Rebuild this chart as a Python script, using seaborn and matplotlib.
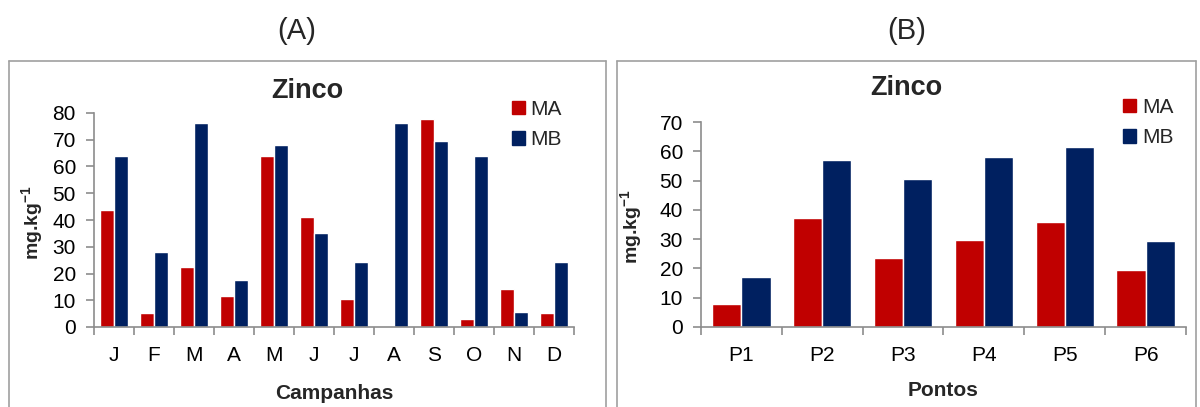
import pandas as pd
import matplotlib
matplotlib.use("Agg")
import matplotlib.pyplot as plt
import seaborn as sns
from matplotlib.patches import Patch
from matplotlib.lines import Line2D

# dados - painel A (campanhas mensais)
meses = ["Jan", "Fev", "Mar", "Abr", "Mai", "Jun", "Jul", "Ago", "Set", "Out", "Nov", "Dez"]
meses_rotulos = ["J", "F", "M", "A", "M", "J", "J", "A", "S", "O", "N", "D"]
zn_ma_meses = [43.9, 5.1, 22.4, 11.5, 63.8, 41.3, 10.4, 0.0, 77.7, 2.9, 14.2, 5.1]
zn_mb_meses = [63.8, 28.1, 76.2, 17.6, 68.0, 35.2, 24.3, 76.2, 69.5, 63.8, 5.5, 24.3]

# dados - painel B (pontos de coleta)
pontos = ["P1", "P2", "P3", "P4", "P5", "P6"]
zn_ma_pontos = [7.9, 37.2, 23.6, 29.8, 35.7, 19.6]
zn_mb_pontos = [17.2, 57.1, 50.4, 58.1, 61.5, 29.4]

series = ["MA", "MB"]
cores = {"MA": "#C00000", "MB": "#002060"}
cinza = "#8C8C8C"

df_a = pd.DataFrame({
    "mes": meses * 2,
    "valor": zn_ma_meses + zn_mb_meses,
    "serie": ["MA"] * len(meses) + ["MB"] * len(meses),
})
df_b = pd.DataFrame({
    "ponto": pontos * 2,
    "valor": zn_ma_pontos + zn_mb_pontos,
    "serie": ["MA"] * len(pontos) + ["MB"] * len(pontos),
})

sns.set_theme(style="white")
plt.rcParams["font.family"] = ["Liberation Sans", "DejaVu Sans"]
plt.rcParams["mathtext.fontset"] = "custom"
plt.rcParams["mathtext.rm"] = "Liberation Sans"
plt.rcParams["mathtext.bf"] = "Liberation Sans:bold"

W, H = 1200, 407
fig = plt.figure(figsize=(12, 4.07), dpi=100)


def px_axes(left, top, right, bottom):
    return fig.add_axes([left / W, 1 - bottom / H, (right - left) / W, (bottom - top) / H])


# molduras dos graficos
for x0, x1 in [(9, 606), (617, 1196)]:
    for xs, ys in [([x0, x0], [H + 5, 61]), ([x0, x1], [61, 61]), ([x1, x1], [61, H + 5])]:
        fig.add_artist(Line2D([v / W for v in xs], [1 - v / H for v in ys],
                              color="#A0A0A0", lw=1.2, transform=fig.transFigure))

ax_a = px_axes(94, 113, 574, 327)
ax_b = px_axes(701, 122, 1186, 327)

sns.barplot(data=df_a, x="mes", y="valor", hue="serie", palette=cores,
            width=0.72, ax=ax_a, legend=False, saturation=1)
sns.barplot(data=df_b, x="ponto", y="valor", hue="serie", palette=cores,
            width=0.72, ax=ax_b, legend=False, saturation=1)


def estilo(ax, n, ymax, rotulos, xlabel, ylab_x):
    ax.set_xlim(-0.5, n - 0.5)
    ax.set_ylim(0, ymax)
    ax.set_yticks(range(0, ymax + 1, 10))
    ax.set_xticks(range(n))
    ax.set_xticklabels(rotulos)
    ax.set_xticks([i - 0.5 for i in range(n + 1)], minor=True)
    for s in ["top", "right"]:
        ax.spines[s].set_visible(False)
    for s in ["left", "bottom"]:
        ax.spines[s].set_color(cinza)
        ax.spines[s].set_linewidth(1.2)
    ax.tick_params(axis="x", which="major", length=0, labelsize=15, pad=14, labelcolor="black")
    ax.tick_params(axis="x", which="minor", length=6, width=1.2, color=cinza, direction="out", bottom=True)
    ax.tick_params(axis="y", length=6, width=1.2, color=cinza, direction="out", left=True,
                   labelsize=15, pad=7, labelcolor="black")
    ax.set_xlabel(xlabel, fontsize=15, fontweight="bold")
    ax.xaxis.set_label_coords(0.5, -0.31)
    ax.xaxis.label.set_va("center")
    ax.set_ylabel("mg.kg$^{\\mathbf{-1}}$", fontsize=14, fontweight="bold")
    ax.yaxis.set_label_coords(ylab_x, 0.49)
    ax.yaxis.label.set_va("center")
    ax.grid(False)


estilo(ax_a, len(meses), 80, meses_rotulos, "Campanhas", -0.127)
estilo(ax_b, len(pontos), 70, pontos, "Pontos", -0.142)

# legendas
handles = [Patch(color=cores[s], label=s) for s in series]
for ax, (lx, ly) in [(ax_a, (512, 100)), (ax_b, (1123, 98))]:
    ax.legend(handles=handles, loc="upper left", bbox_to_anchor=(lx / W, 1 - ly / H),
              bbox_transform=fig.transFigure, frameon=False, fontsize=15,
              handlelength=0.6, handleheight=0.6, handletextpad=0.3,
              labelspacing=0.55, borderpad=0, borderaxespad=0)

# titulos
fig.text((9 + 606) / 2 / W, 1 - 91 / H, "Zinco", fontsize=19.5, fontweight="bold", ha="center", va="center")
fig.text((617 + 1196) / 2 / W, 1 - 88 / H, "Zinco", fontsize=19.5, fontweight="bold", ha="center", va="center")
fig.text(297 / W, 1 - 31 / H, "(A)", fontsize=21, ha="center", va="center")
fig.text(907 / W, 1 - 31 / H, "(B)", fontsize=21, ha="center", va="center")

fig.savefig("out.png", dpi=100, facecolor="white")
